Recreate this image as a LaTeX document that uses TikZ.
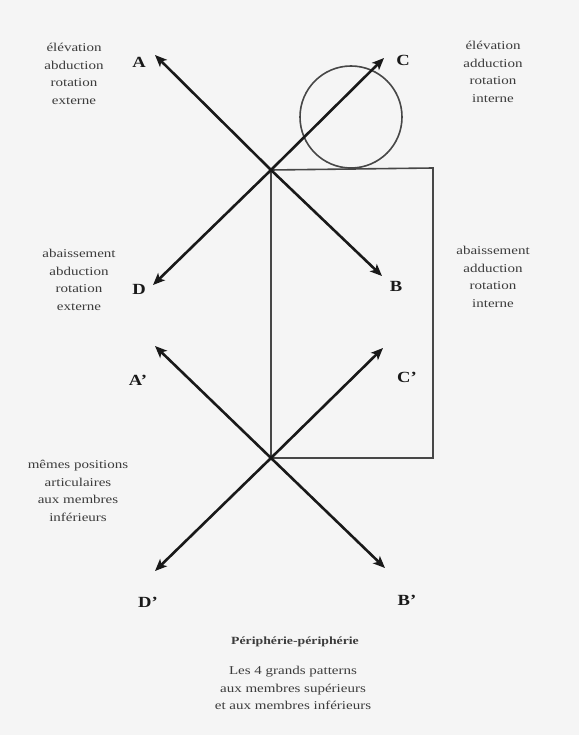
\documentclass[tikz,border=0pt]{standalone}
\usepackage{fontspec}
\setmainfont{Liberation Serif}
\usetikzlibrary{arrows.meta}
\definecolor{paper}{gray}{0.96}
\definecolor{ink}{gray}{0.1}
\begin{document}
\begin{tikzpicture}[x=1pt,y=-1pt,
  arr/.style={draw=ink,line width=2.6pt,-{Stealth[length=12pt,width=10pt,inset=3pt]}},
  thin/.style={draw=ink!80,line width=1.6pt},
  lbl/.style={text=ink,font=\bfseries\fontsize{15.5}{17}\selectfont,inner sep=0pt,xscale=1.2,transform shape},
  txt/.style={text=ink!85,font=\fontsize{12}{17.5}\selectfont,align=center,inner sep=0pt,xscale=1.25,transform shape}]
\useasboundingbox (0,0) rectangle (579,735);
\fill[paper] (0,0) rectangle (579,735);
% coordinates
\coordinate (O1) at (271,170);
\coordinate (O2) at (271,458);
\coordinate (tA) at (155,55);
\coordinate (tC) at (384,58);
\coordinate (tD) at (153,285);
\coordinate (tB) at (382,276);
\coordinate (tA2) at (155,346);
\coordinate (tC2) at (383,348);
\coordinate (tD2) at (155,571);
\coordinate (tB2) at (385,568);
\coordinate (R1) at (433,168);
\coordinate (R2) at (433,458);
% shapes
\draw[thin] (O1) -- (R1) -- (R2) -- (O2) -- cycle;
\draw[thin] (351,117) circle (51);
% arrows
\draw[arr] (O1) -- (tA);
\draw[arr] (O1) -- (tC);
\draw[arr] (O1) -- (tD);
\draw[arr] (O1) -- (tB);
\draw[arr] (O2) -- (tA2);
\draw[arr] (O2) -- (tC2);
\draw[arr] (O2) -- (tD2);
\draw[arr] (O2) -- (tB2);
% labels
\node[lbl] (A) at (139,62) {A};
\node[lbl] (C) at (403,60) {C};
\node[lbl] (D) at (139,289) {D};
\node[lbl] (B) at (396,286) {B};
\node[lbl] (A2) at (138,380) {A'};
\node[lbl] (C2) at (407,377) {C'};
\node[lbl] (D2) at (148,602) {D'};
\node[lbl] (B2) at (407,600) {B'};
% texts
\node[txt] (t1) at (74,74) {élévation\\abduction\\rotation\\externe};
\node[txt] (t2) at (493,72) {élévation\\adduction\\rotation\\interne};
\node[txt] (t3) at (79,280) {abaissement\\abduction\\rotation\\externe};
\node[txt] (t4) at (493,277) {abaissement\\adduction\\rotation\\interne};
\node[txt] (t5) at (78,491) {mêmes positions\\articulaires\\aux membres\\inférieurs};
\node[txt,font=\bfseries\fontsize{11}{12}\selectfont,xscale=1.0] (t6) at (295,642) {Périphérie-périphérie};
\node[txt] (t7) at (293,688) {Les 4 grands patterns\\aux membres supérieurs\\et aux membres inférieurs};
\end{tikzpicture}
\end{document}
